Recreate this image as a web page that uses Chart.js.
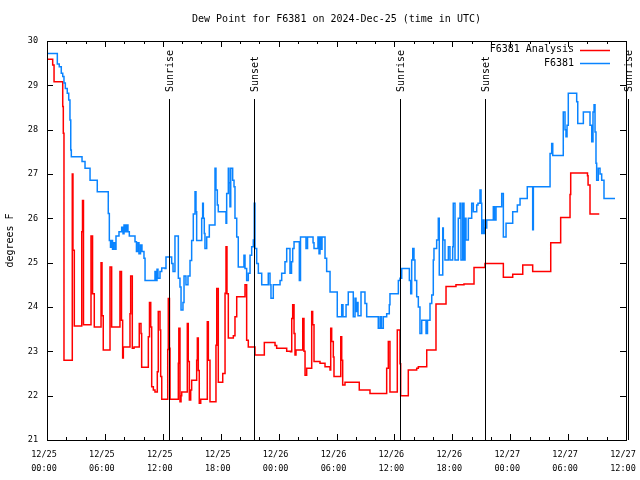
<!DOCTYPE html>
<html>
<head>
<meta charset="utf-8">
<script src="https://cdn.jsdelivr.net/npm/chart.js@4.4.1/dist/chart.umd.min.js"></script>
<style>
  html, body { margin: 0; padding: 0; background: #fff; }
  #wrap { width: 640px; height: 480px; }
</style>
</head>
<body>
<div id="wrap"><canvas id="myChart" width="640" height="480"></canvas></div>
<script>
// hours since 12/25 00:00 UTC, dew point in degrees F (step start times)
const obsHours = [0, 1.07, 1.27, 1.48, 1.63, 1.76, 1.90, 2.10, 2.25, 2.38, 2.46, 2.52, 3.63, 3.94, 4.46, 5.21,
  6.35, 6.46, 6.58, 6.68, 6.79, 6.89, 7.05, 7.15, 7.46, 7.74, 7.88, 7.98, 8.13, 8.24, 8.39, 8.53,
  9.12, 9.27, 9.43, 9.53, 9.69, 9.84, 10.05, 10.16, 11.19, 11.30, 11.40, 11.50, 11.71, 11.89,
  12.23, 12.33, 12.92, 13.06, 13.26, 13.61, 13.78, 13.89, 14.09, 14.20, 14.40, 14.61, 14.82, 14.99,
  15.16, 15.34, 15.44, 15.51, 16.03, 16.13, 16.20, 16.30, 16.37, 16.55, 16.82, 17.41, 17.51, 17.65,
  17.75, 18.55, 18.62, 18.79, 18.86, 18.96, 19.04, 19.24, 19.38, 19.48, 19.66, 19.82, 20.41, 20.52,
  20.69, 20.86, 21.04, 21.21, 21.38, 21.48, 21.55, 21.73, 21.90, 22.25, 22.93, 23.11, 23.21, 23.45,
  24.15, 24.32, 24.66, 24.84, 25.18, 25.34, 25.46, 25.60, 26.01, 26.15, 26.27, 26.84, 27.00, 27.25,
  27.57, 27.67, 28.08, 28.19, 28.29, 28.39, 28.50, 28.81, 28.98, 29.33, 30.08, 30.36, 30.54, 30.67,
  30.99, 31.22, 31.74, 31.92, 32.02, 32.12, 32.23, 32.54, 32.95, 33.13, 34.33, 34.51, 34.66, 34.85,
  35.20, 35.47, 35.54, 36.41, 36.58, 36.76, 37.55, 37.69, 37.79, 37.90, 38.03, 38.13, 38.31, 38.48,
  38.65, 38.83, 39.28, 39.43, 39.69, 39.87, 40.03, 40.10, 40.38, 40.55, 40.65, 41.01, 41.07, 41.24,
  41.59, 41.76, 42.04, 42.10, 42.28, 42.62, 42.80, 42.90, 43.08, 43.21, 43.32, 43.42, 43.66, 44.01,
  44.18, 44.53, 44.66, 44.87, 44.98, 45.05, 45.21, 45.29, 45.39, 45.57, 46.25, 46.37, 46.53, 47.12,
  47.29, 47.57, 48.26, 48.74, 49.02, 49.77, 50.33, 50.40, 52.13, 52.30, 52.41, 53.50, 53.68, 53.78,
  53.89, 54.02, 54.89, 55.00, 55.58, 56.27, 56.45, 56.58, 56.69, 56.79, 56.89, 56.96, 57.13, 57.31,
  57.48, 57.72, 58.86];
const obsValues = [29.72, 29.48, 29.42, 29.27, 29.2, 29.05, 28.93, 28.82, 28.67, 28.22, 27.54, 27.39, 27.28, 27.13, 26.86, 26.6,
  26.11, 25.5, 25.35, 25.5, 25.3, 25.45, 25.3, 25.6, 25.7, 25.8, 25.65, 25.85, 25.7, 25.85, 25.7, 25.6,
  25.47, 25.25, 25.45, 25.2, 25.4, 25.25, 25.1, 24.6, 24.8, 24.6, 24.85, 24.65, 24.8, 24.88,
  24.87, 25.13, 24.98, 24.8, 25.6, 24.65, 24.45, 23.93, 24.1, 24.7, 24.5, 24.7, 25.05, 25.5,
  26.1, 26.6, 26.15, 25.5, 26.0, 26.34, 26.0, 25.66, 25.32, 25.58, 25.85, 27.13, 26.64, 26.3,
  26.15, 25.89, 26.56, 27.13, 26.8, 26.26, 27.13, 26.86, 26.71, 26.0, 25.58, 24.9, 25.17, 24.87,
  24.6, 24.76, 25.17, 25.36, 25.51, 26.34, 25.32, 24.98, 24.76, 24.5, 24.76, 24.5, 24.2, 24.5,
  24.6, 24.76, 25.02, 25.32, 24.76, 25.02, 25.32, 25.47, 25.47, 24.6, 25.58, 25.32, 25.58, 25.58,
  25.45, 25.32, 25.58, 25.2, 25.58, 25.3, 25.58, 25.1, 24.8, 24.34, 23.78, 23.78, 24.05, 23.78,
  24.05, 24.34, 23.78, 24.2, 23.9, 24.1, 23.8, 24.34, 24.08, 23.78, 23.52, 23.78, 23.52, 23.78,
  23.85, 24.05, 24.3, 24.6, 24.65, 24.87, 24.6, 24.3, 25.06, 25.32, 25.06, 24.6, 24.23, 24.0,
  23.4, 23.7, 23.4, 23.7, 24.08, 24.27, 25.06, 25.32, 25.51, 26.0, 24.72, 25.78, 25.51, 25.06,
  25.36, 25.06, 25.36, 26.34, 25.06, 26.0, 26.34, 25.06, 26.34, 25.06, 26.0, 25.51, 26.0, 26.34,
  26.15, 26.3, 26.34, 26.64, 26.34, 25.66, 25.96, 25.66, 25.78, 25.96, 26.26, 25.96, 26.26, 26.56,
  25.58, 25.89, 26.15, 26.3, 26.45, 26.71, 25.74, 26.71, 27.46, 27.69, 27.42, 28.4, 28.0, 27.84,
  28.1, 28.82, 28.63, 28.14, 28.4, 28.1, 27.73, 28.4, 28.56, 27.95, 27.24, 26.86, 27.13, 27.0,
  26.86, 26.45, 26.45];

const anaHours = [0, 0.59, 0.73, 1.63, 1.69, 1.76, 2.62, 2.69, 2.83, 3.60, 3.68, 3.78, 4.56, 4.72, 4.90,
  5.60, 5.70, 5.83, 6.53, 6.70, 7.56, 7.72, 7.84, 7.91, 8.60, 8.67, 8.84, 9.02, 9.56, 9.74, 9.81,
  10.50, 10.62, 10.75, 10.85, 11.02, 11.19, 11.43, 11.53, 11.71, 11.78, 11.89, 12.51, 12.57, 12.69,
  12.75, 13.61, 13.66, 13.78, 13.89, 13.96, 14.54, 14.64, 14.75, 14.89, 14.99, 15.51, 15.58, 15.68,
  15.78, 15.93, 16.61, 16.72, 16.89, 17.51, 17.59, 17.75, 18.21, 18.45, 18.55, 18.65, 18.79, 19.31,
  19.48, 19.66, 20.52, 20.69, 20.86, 21.55, 22.52, 23.63, 23.80, 24.84, 25.23, 25.36, 25.46, 25.60,
  25.70, 25.80, 26.50, 26.63, 26.74, 26.91, 27.43, 27.53, 27.67, 28.29, 28.81, 29.33, 29.40, 29.50,
  29.67, 29.74, 30.44, 30.54, 30.64, 30.88, 32.36, 33.47, 35.20, 35.37, 35.54, 36.30, 36.58, 36.65,
  37.44, 38.31, 38.48, 39.35, 40.31, 41.35, 42.38, 43.21, 44.25, 45.39, 47.29, 48.26, 49.30, 50.33,
  52.20, 53.23, 54.20, 54.27, 56.01, 56.07, 56.27, 57.23];
const anaValues = [29.59, 29.46, 29.08, 28.52, 27.92, 22.8, 27.0, 25.28, 23.57, 25.7, 26.4, 23.6, 25.6, 24.3, 23.55,
  25.0, 23.8, 23.03, 24.9, 23.55, 24.8, 23.7, 22.85, 23.1, 23.85, 24.7, 23.07, 23.1, 23.63, 23.4, 22.64,
  23.33, 24.1, 23.55, 22.2, 22.13, 22.08, 22.54, 23.9, 23.48, 22.43, 21.92, 23.04, 24.19, 23.07,
  21.92, 22.73, 23.52, 21.86, 22.0, 22.08, 23.63, 22.77, 21.9, 22.13, 22.35, 22.8, 23.3, 22.57,
  21.83, 21.92, 23.67, 22.8, 21.86, 23.14, 24.42, 22.3, 22.5, 24.31, 25.36, 24.3, 23.3, 23.35,
  23.78, 24.23, 24.5, 23.25, 23.1, 22.92, 23.2, 23.13, 23.07, 23.0, 22.99, 23.74, 24.05, 23.4,
  22.92, 23.03, 23.74, 23.0, 22.46, 22.62, 23.9, 23.6, 22.77, 22.73, 22.65, 22.58, 23.52, 23.22,
  22.87, 22.43, 23.33, 22.8, 22.24, 22.3, 22.13, 22.05, 22.62, 23.22, 22.08, 23.48, 22.72, 22.0,
  22.58, 22.62, 22.65, 23.03, 24.07, 24.46, 24.5, 24.52, 24.89, 24.98, 24.67, 24.74, 24.95, 24.8,
  25.45, 26.02, 26.54, 27.02, 26.96, 26.75, 26.1, 26.1];

const sunHours = [12.64, 21.45, 36.55, 45.42, 60.2];
const sunLabels = ['Sunrise', 'Sunset', 'Sunrise', 'Sunset', 'Sunrise'];
const dayLabels = ['12/25', '12/26', '12/27'];

const MONO = '"DejaVu Sans Mono", monospace';
const RED = '#ff0000';
const BLUE = '#0a84ff';

function pts(xs, ys) {
  return xs.map((x, i) => ({ x: x, y: ys[i] }));
}

const framePlugin = {
  id: 'frame',
  afterDraw(chart) {
    const ctx = chart.ctx;
    const a = chart.chartArea;
    const xs = chart.scales.x, ys = chart.scales.y;
    ctx.save();
    ctx.strokeStyle = '#000';
    ctx.lineWidth = 1;
    ctx.beginPath();
    // x ticks every 2 hours, longer every 6
    for (let h = 0; h <= 60; h += 2) {
      const px = Math.round(xs.getPixelForValue(h)) + 0.5;
      const len = h % 6 === 0 ? 6 : 3;
      ctx.moveTo(px, a.bottom); ctx.lineTo(px, a.bottom - len);
      ctx.moveTo(px, a.top); ctx.lineTo(px, a.top + len);
    }
    for (let v = 21; v <= 30; v++) {
      const py = Math.round(ys.getPixelForValue(v)) + 0.5;
      ctx.moveTo(a.left, py); ctx.lineTo(a.left + 6, py);
      ctx.moveTo(a.right, py); ctx.lineTo(a.right - 6, py);
    }
    ctx.stroke();
    ctx.strokeRect(Math.round(a.left) + 0.5, Math.round(a.top) + 0.5,
      Math.round(a.right - a.left), Math.round(a.bottom - a.top));

    // sunrise / sunset markers
    ctx.fillStyle = '#000';
    ctx.font = '10px ' + MONO;
    sunHours.forEach((h, i) => {
      const px = Math.round(xs.getPixelForValue(h)) + 0.5;
      ctx.beginPath();
      ctx.moveTo(px, a.top + 58);
      ctx.lineTo(px, a.bottom);
      ctx.stroke();
      ctx.save();
      ctx.translate(px + 1, a.top + 51);
      ctx.rotate(-Math.PI / 2);
      ctx.textAlign = 'left';
      ctx.textBaseline = 'middle';
      ctx.fillText(sunLabels[i], 0, 0);
      ctx.restore();
    });

    // title
    ctx.textAlign = 'center';
    ctx.textBaseline = 'middle';
    ctx.fillText('Dew Point for F6381 on 2024-Dec-25 (time in UTC)', (a.left + a.right) / 2, 19);

    // y axis title
    ctx.save();
    ctx.translate(10, (a.top + a.bottom) / 2);
    ctx.rotate(-Math.PI / 2);
    ctx.fillText('degrees F', 0, 0);
    ctx.restore();

    // legend
    const names = ['F6381 Analysis', 'F6381'];
    const cols = [RED, BLUE];
    ctx.textAlign = 'right';
    names.forEach((n, i) => {
      const y = a.top + 8.5 + i * 13.5;
      ctx.fillStyle = '#000';
      ctx.fillText(n, a.right - 52, y);
      ctx.strokeStyle = cols[i];
      ctx.lineWidth = 1.5;
      ctx.beginPath();
      ctx.moveTo(a.right - 46, Math.round(y) + 0.5);
      ctx.lineTo(a.right - 16, Math.round(y) + 0.5);
      ctx.stroke();
    });
    ctx.restore();
  }
};

new Chart(document.getElementById('myChart'), {
  type: 'line',
  data: {
    datasets: [{
      label: 'F6381 Analysis',
      data: pts(anaHours, anaValues),
      borderColor: RED,
      borderWidth: 1.5,
      stepped: 'before',
      pointRadius: 0,
      order: 2
    }, {
      label: 'F6381',
      data: pts(obsHours, obsValues),
      borderColor: BLUE,
      borderWidth: 1.5,
      stepped: 'before',
      pointRadius: 0,
      order: 1
    }]
  },
  options: {
    responsive: false,
    animation: false,
    layout: { padding: { left: 0, right: 14, top: 41, bottom: 0 } },
    plugins: { legend: { display: false }, title: { display: false }, tooltip: { enabled: false } },
    scales: {
      x: {
        type: 'linear',
        min: 0,
        max: 60,
        grid: { display: false, drawTicks: false },
        border: { display: false },
        afterFit(s) { s.height = 40; s.paddingLeft = 0; s.paddingRight = 0; },
        ticks: {
          stepSize: 6,
          padding: 8,
          labelOffset: -3,
          maxRotation: 0,
          autoSkip: false,
          color: '#000',
          font: { family: MONO, size: 8.5, lineHeight: 1.6 },
          callback(v) {
            const d = dayLabels[Math.floor(v / 24)];
            const hh = String(v % 24).padStart(2, '0');
            return [d, hh + ':00'];
          }
        }
      },
      y: {
        min: 21,
        max: 30,
        grid: { display: false, drawTicks: false },
        border: { display: false },
        afterFit(s) { s.width = 47; s.paddingTop = 0; s.paddingBottom = 0; },
        ticks: {
          stepSize: 1,
          padding: 9,
          color: '#000',
          font: { family: MONO, size: 8.5 }
        }
      }
    }
  },
  plugins: [framePlugin]
});
</script>
</body>
</html>
